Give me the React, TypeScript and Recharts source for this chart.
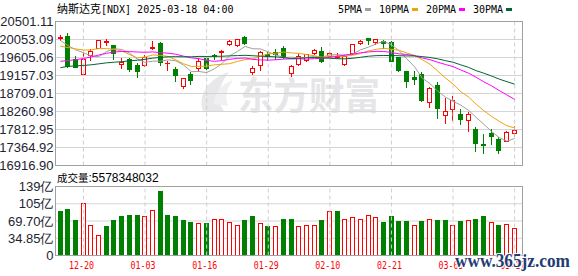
import React from 'react';
import { ComposedChart, Bar, Line, XAxis, YAxis, CartesianGrid, ReferenceLine } from 'recharts';

// ---------- data ----------
const dates = [
  '12-17', '12-18', '12-19', '12-20', '12-23', '12-24', '12-26', '12-27', '12-30', '12-31',
  '01-02', '01-03', '01-06', '01-07', '01-08', '01-10', '01-13', '01-14', '01-15', '01-16',
  '01-17', '01-21', '01-22', '01-23', '01-24', '01-27', '01-28', '01-29', '01-30', '01-31',
  '02-03', '02-04', '02-05', '02-06', '02-07', '02-10', '02-11', '02-12', '02-13', '02-14',
  '02-18', '02-19', '02-20', '02-21', '02-24', '02-25', '02-26', '02-27', '02-28', '03-03',
  '03-04', '03-05', '03-06', '03-07', '03-10', '03-11', '03-12', '03-13', '03-14', '03-17',
];
const opens = [
  20085, 20128, 19573, 19200, 19655, 19840, 19990, 19905, 19440, 19573,
  19423, 19423, 19850, 19961, 19470, 19324, 18908, 19199, 19349, 19597,
  19660, 19745, 19935, 19921, 20110, 19234, 19423, 19700, 19730, 19834,
  19224, 19431, 19555, 19722, 19779, 19650, 19620, 19448, 19722, 19971,
  20085, 19990, 20028, 20003, 19612, 19257, 19110, 19199, 18492, 18933,
  18179, 18328, 18204, 18037, 17830, 17460, 17720, 17581, 17539, 17731,
];
const highs = [
  20160, 20220, 19630, 19705, 19820, 20035, 20060, 19910, 19600, 19605,
  19473, 19672, 20007, 19990, 19530, 19364, 19100, 19240, 19600, 19640,
  19700, 19790, 20053, 20060, 20130, 19397, 19759, 19740, 19810, 19884,
  19420, 19680, 19700, 19810, 19870, 19740, 19710, 19660, 19950, 20045,
  20100, 20070, 20047, 20016, 19620, 19270, 19260, 19250, 18870, 18990,
  18592, 18640, 18330, 18240, 17870, 17706, 17830, 17620, 17765, 17910,
];
const lows = [
  20045, 19364, 19364, 19190, 19540, 19830, 19920, 19580, 19350, 19265,
  19132, 19388, 19812, 19420, 19300, 19032, 18840, 18950, 19280, 19320,
  19560, 19575, 19925, 19880, 19930, 19204, 19306, 19540, 19580, 19600,
  19140, 19420, 19520, 19680, 19500, 19610, 19590, 19420, 19700, 19945,
  19940, 19950, 19845, 19510, 19270, 18861, 18950, 18530, 18370, 18100,
  17969, 18040, 17940, 17768, 17290, 17230, 17440, 17232, 17515, 17648,
];
const closes = [
  20109, 19393, 19373, 19573, 19765, 20031, 20020, 19722, 19487, 19311,
  19281, 19622, 19865, 19490, 19479, 19162, 19088, 19044, 19511, 19338,
  19630, 19757, 20009, 20054, 19954, 19342, 19734, 19632, 19682, 19627,
  19392, 19654, 19692, 19792, 19523, 19714, 19644, 19650, 19946, 20027,
  20041, 20056, 19962, 19524, 19287, 19026, 19075, 18544, 18847, 18350,
  18285, 18553, 18069, 18196, 17468, 17436, 17648, 17303, 17754, 17809,
];
// volume, in 亿
const volumes = [
  90.9, 93.5, 72.7, 106.5, 62, 41.8, 60.6, 72.7, 78.8, 82.8,
  82.8, 78.8, 92.9, 129.3, 82.8, 78.8, 72.7, 67.3, 66, 66,
  74.1, 74.1, 67.3, 62, 72.7, 80.8, 66, 60.6, 60, 74.7,
  74.7, 60, 62, 62, 72.7, 90.2, 88.9, 74.1, 78.1, 74.1,
  82.2, 78.1, 68, 78.8, 68.7, 70.7, 62, 68.7, 74.1, 72.7,
  72.7, 62, 68.7, 72, 74.7, 80.8, 68, 62.6, 64, 55.78,
];
// closes of the 29 sessions before the window (needed by the moving-average lines)
const closesBeforeWindow = [
  18439, 18983, 19269, 19287, 19299, 19281, 19231, 19108, 18680, 18792,
  18987, 18966, 18972, 19004, 19055, 19174, 19060, 19218, 19404, 19481,
  19735, 19700, 19860, 19737, 19687, 20035, 19903, 19927, 20174,
];
const priceTicks = [16916.9, 17364.92, 17812.95, 18260.98, 18709.01, 19157.03, 19605.06, 20053.09, 20501.11];
const volTicks = [0, 34.85, 69.7, 104.55, 139.4];
const volTickLabels = ['0', '34.85亿', '69.70亿', '105亿', '139亿'];
const xTickLabels = ['12-20', '01-03', '01-16', '01-29', '02-10', '02-21', '03-05', '03-17'];
const maPeriods = [5, 10, 20, 30];
const maNames = ['5PMA', '10PMA', '20PMA', '30PMA'];
const maColors = ['#a0a0a0', '#f0a30a', '#ff00ff', '#006633'];
const titleName = '纳斯达克';
const titleRest = '[NDX] 2025-03-18 04:00';
const volumeLabel = '成交量';
const lastVolumeText = '5578348032';

// ---------- derived table ----------
const allCloses = [...closesBeforeWindow, ...closes];
const movingAverage = (period: number, i: number) => {
  const end = closesBeforeWindow.length + i;
  let s = 0;
  for (let k = end - period + 1; k <= end; k++) s += allCloses[k];
  return s / period;
};
const rows = dates.map((date, i) => {
  const prev = i === 0 ? closesBeforeWindow[closesBeforeWindow.length - 1] : closes[i - 1];
  const r: any = {
    date,
    open: opens[i],
    high: highs[i],
    low: lows[i],
    close: closes[i],
    range: [lows[i], highs[i]],
    vol: volumes[i],
    volUp: closes[i] >= prev,
  };
  maPeriods.forEach((p) => {
    r['ma' + p] = movingAverage(p, i);
  });
  return r;
});

const RED = '#ff0000';
const GREEN = '#008000';
const GRID = '#d4d4d4';
const FRAME = '#a0a0a0';

const Candle = (props: any) => {
  const { x, y, width, height, payload } = props;
  if (x == null || y == null || !payload) return null;
  const { open, close, high, low } = payload;
  const k = height / (high - low);
  const yOf = (p: number) => y + (high - p) * k;
  const c = Math.floor(x + width / 2);
  const up = close >= open;
  const color = up ? RED : GREEN;
  const top = Math.round(yOf(Math.max(open, close)));
  const bot = Math.round(yOf(Math.min(open, close)));
  const yh = Math.round(yOf(high));
  const yl = Math.round(yOf(low));
  let body;
  if (bot - top < 1) {
    body = <line x1={c - 2} x2={c + 3} y1={top + 0.5} y2={top + 0.5} stroke={color} />;
  } else if (up) {
    body = <rect x={c - 1.5} y={top + 0.5} width={4} height={bot - top} fill="#ffffff" stroke={RED} />;
  } else {
    body = <rect x={c - 2} y={top} width={5} height={bot - top + 1} fill={GREEN} />;
  }
  return (
    <g>
      <line x1={c + 0.5} x2={c + 0.5} y1={yh} y2={yl + 1} stroke={color} />
      {body}
    </g>
  );
};

const VolBar = (props: any) => {
  const { x, y, width, height, payload } = props;
  if (x == null || y == null || !payload) return null;
  const c = Math.floor(x + width / 2);
  const top = Math.round(y);
  const bot = Math.round(y + height);
  if (payload.volUp) {
    return <rect x={c - 1.5} y={top + 0.5} width={4} height={Math.max(bot - top - 1, 1)} fill="#ffffff" stroke={RED} />;
  }
  return <rect x={c - 2} y={top} width={5} height={bot - top} fill={GREEN} />;
};

const XTick = (props: any) => {
  const { x, y, payload } = props;
  return (
    <text x={x - 2} y={y + 13.5} textAnchor="middle" fill={RED} fontSize={10}
      fontFamily="DejaVu Sans Mono, monospace" textLength={25} lengthAdjust="spacingAndGlyphs">
      {payload.value}
    </text>
  );
};

const axisFont = { fontSize: 13, fill: '#1e2433', fontFamily: 'Liberation Sans, Arial, sans-serif' };

export default function App() {
  let lx = 338;
  const legendItems = maNames.map((name, i) => {
    const tx = lx;
    const sx = tx + name.length * 6 + 3;
    lx = sx + 6 + 8;
    return (
      <g key={name}>
        <text x={tx} y={12.5} fontSize={10} fontFamily="DejaVu Sans Mono, monospace" fill="#000">{name}</text>
        <rect x={sx} y={8} width={6} height={3} fill={maColors[i]} />
      </g>
    );
  });

  return (
    <div style={{ position: 'absolute', left: 0, top: 0, width: 578, height: 276, background: '#ffffff', overflow: 'hidden' }}>
      {/* background layer: watermark, title, legend */}
      <svg width={578} height={276} style={{ position: 'absolute', left: 0, top: 0 }}>
        <path d="M203 111 C198 96 206 80 229 72 C218 86 216 99 224 111 Z" fill="#e8e8ea" />
        <path d="M214 104 C214 92 222 84 233 80 C226 90 225 98 228 106 Z" fill="#f0f0f2" />
        <text x={238} y={109} fontSize={38} fontWeight="bold" fill="#e6e6e8"
          fontFamily="Noto Sans CJK SC, sans-serif" textLength={142} lengthAdjust="spacingAndGlyphs">东方财富</text>
        <text x={57} y={13} fill="#000">
          <tspan fontSize={11} fontFamily="Noto Sans CJK SC, sans-serif">{titleName}</tspan>
          <tspan fontSize={10} fontFamily="DejaVu Sans Mono, monospace">{titleRest}</tspan>
        </text>
        {legendItems}
        <text x={57} y={182} fill="#000">
          <tspan fontSize={10.5} fontFamily="Noto Sans CJK SC, sans-serif">{volumeLabel}</tspan>
          <tspan fontSize={12} fontFamily="Liberation Sans, Arial, sans-serif">{':' + lastVolumeText}</tspan>
        </text>
      </svg>

      {/* price panel */}
      <div style={{ position: 'absolute', left: 0, top: 0 }}>
        <ComposedChart width={578} height={178} data={rows} margin={{ top: 21.5, right: 55.5, bottom: 12.5, left: 0 }}>
          <CartesianGrid vertical={false} stroke={GRID} />
          <XAxis dataKey="date" hide padding={{ left: 1, right: 4 }} />
          <YAxis domain={[priceTicks[0], priceTicks[priceTicks.length - 1]]} ticks={priceTicks} allowDataOverflow
            width={55.5} tickSize={0} tickMargin={2} axisLine={false} tickLine={false} interval={0}
            tick={axisFont} tickFormatter={(v: number) => v.toFixed(2)} />
          {xTickLabels.map((d) => (
            <ReferenceLine key={d} x={d} stroke="#cfcfcf" strokeDasharray="4 3" />
          ))}
          <Bar dataKey="range" barSize={5} shape={<Candle />} isAnimationActive={false} />
          {maPeriods.map((p, i) => (
            <Line key={p} dataKey={'ma' + p} type="linear" stroke={maColors[i]} strokeWidth={1} dot={false}
              activeDot={false} isAnimationActive={false} />
          ))}
        </ComposedChart>
      </div>

      {/* volume panel */}
      <div style={{ position: 'absolute', left: 0, top: 170 }}>
        <ComposedChart width={578} height={106} data={rows} margin={{ top: 16.5, right: 55.5, bottom: 0, left: 0 }}>
          <CartesianGrid vertical={false} stroke={GRID} />
          <XAxis dataKey="date" ticks={xTickLabels} interval={0} padding={{ left: 1, right: 4 }} height={20.5}
            tickSize={0} tickMargin={0} axisLine={false} tickLine={false} tick={<XTick />} />
          <YAxis domain={[0, 139.4]} ticks={volTicks} allowDataOverflow width={55.5} tickSize={0} tickMargin={2}
            axisLine={false} tickLine={false} interval={0} tick={axisFont}
            tickFormatter={(v: number) => volTickLabels[volTicks.indexOf(v)]} />
          {xTickLabels.map((d) => (
            <ReferenceLine key={d} x={d} stroke="#cfcfcf" strokeDasharray="4 3" />
          ))}
          <Bar dataKey="vol" barSize={5} shape={<VolBar />} isAnimationActive={false} />
        </ComposedChart>
      </div>

      {/* panel frames */}
      <div style={{ position: 'absolute', left: 55, top: 21, width: 468, height: 145, boxSizing: 'border-box', border: `1px solid ${FRAME}`, pointerEvents: 'none' }} />
      <div style={{ position: 'absolute', left: 55, top: 186, width: 468, height: 70, boxSizing: 'border-box', border: `1px solid ${FRAME}`, pointerEvents: 'none' }} />

      {/* source watermark */}
      <svg width={578} height={276} style={{ position: 'absolute', left: 0, top: 0, pointerEvents: 'none' }}>
        <text x={455} y={267} fontSize={18} fontWeight="bold" fontFamily="Liberation Serif, serif" fill="#1f3d73"
          stroke="#ffffff" strokeWidth={2} paintOrder="stroke" textLength={115} lengthAdjust="spacingAndGlyphs">www.365jz.com</text>
      </svg>
    </div>
  );
}
